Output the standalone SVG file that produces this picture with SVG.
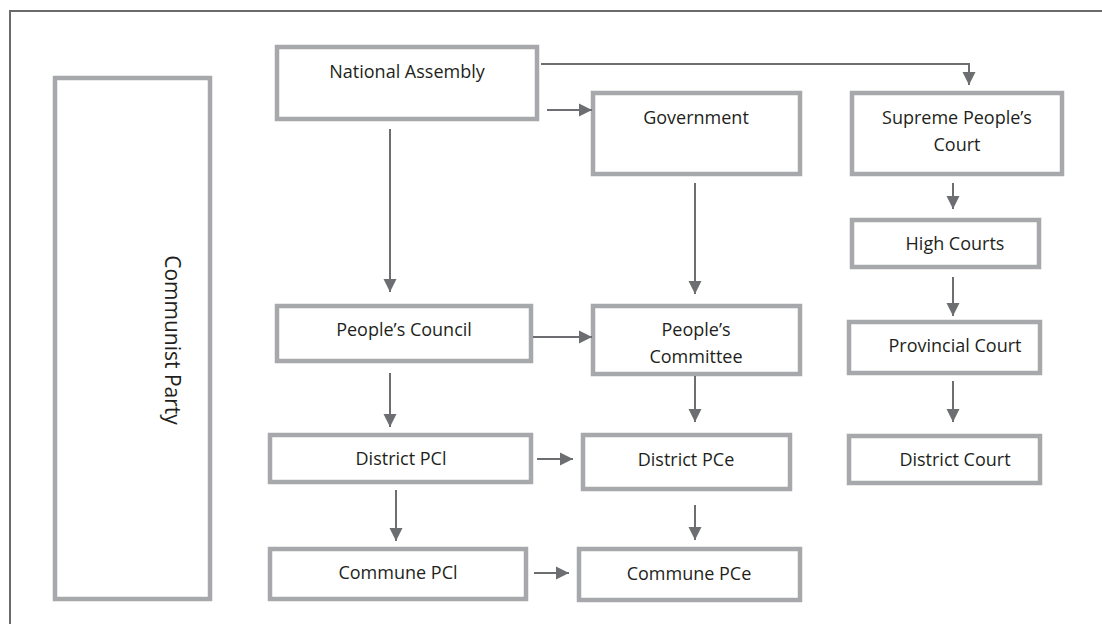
<svg xmlns="http://www.w3.org/2000/svg" width="1102" height="625" viewBox="0 0 1102 625">
<style>
.box{fill:#fff;stroke:#a7a8ab;stroke-width:4.5}
.t{font-family:"Open Sans","Noto Sans",sans-serif;font-size:18px;fill:#231f20;text-anchor:middle}
.c{fill:none;stroke:#6d6e71;stroke-width:2}
.frame{fill:none;stroke:#6b6b6b;stroke-width:2}
</style>
<defs>
<marker id="ah" markerUnits="userSpaceOnUse" markerWidth="14" markerHeight="14" viewBox="0 0 14 14" refX="13" refY="7" orient="auto">
<path d="M0,0.5 L13,7 L0,13.5 Z" fill="#6d6e71"/>
</marker>
</defs>
<rect width="1102" height="625" fill="#fff"/>
<path class="frame" d="M1102,11 H10 V624"/>
<g id="communist-party"><rect class="box" x="55" y="78" width="155" height="521"/><text class="t" transform="translate(165,340) rotate(90)" style="font-size:21px">Communist Party</text></g>
<g id="national-assembly"><rect class="box" x="277" y="47" width="260" height="72"/><text class="t" x="407" y="78">National Assembly</text></g>
<g id="government"><rect class="box" x="593" y="93" width="207" height="81"/><text class="t" x="696" y="124">Government</text></g>
<g id="supreme-court"><rect class="box" x="852" y="93" width="210" height="81"/><text class="t" x="957" y="124">Supreme People’s</text><text class="t" x="957" y="151">Court</text></g>
<g id="high-courts"><rect class="box" x="852" y="220" width="187" height="47"/><text class="t" x="955" y="250">High Courts</text></g>
<g id="provincial-court"><rect class="box" x="849" y="322" width="191" height="51"/><text class="t" x="955" y="352">Provincial Court</text></g>
<g id="district-court"><rect class="box" x="849" y="436" width="191" height="47"/><text class="t" x="955" y="466">District Court</text></g>
<g id="peoples-council"><rect class="box" x="277" y="306" width="254" height="55"/><text class="t" x="404" y="336">People’s Council</text></g>
<g id="peoples-committee"><rect class="box" x="593" y="306" width="207" height="68"/><text class="t" x="696" y="336">People’s</text><text class="t" x="696" y="363">Committee</text></g>
<g id="district-pcl"><rect class="box" x="270" y="435" width="261" height="47"/><text class="t" x="401" y="465">District PCl</text></g>
<g id="district-pce"><rect class="box" x="583" y="435" width="207" height="54"/><text class="t" x="686" y="466">District PCe</text></g>
<g id="commune-pcl"><rect class="box" x="270" y="549" width="256" height="50"/><text class="t" x="398" y="579">Commune PCl</text></g>
<g id="commune-pce"><rect class="box" x="579" y="549" width="221" height="51"/><text class="t" x="689" y="580">Commune PCe</text></g>
<g id="connectors">
<path class="c" d="M541,64 H969 V85" marker-end="url(#ah)"/>
<path class="c" d="M547,110 H592" marker-end="url(#ah)"/>
<path class="c" d="M390,129 V292" marker-end="url(#ah)"/>
<path class="c" d="M695,183 V294" marker-end="url(#ah)"/>
<path class="c" d="M953,183 V209" marker-end="url(#ah)"/>
<path class="c" d="M953,277 V316" marker-end="url(#ah)"/>
<path class="c" d="M953,381 V422" marker-end="url(#ah)"/>
<path class="c" d="M533,337 H592" marker-end="url(#ah)"/>
<path class="c" d="M390,373 V427" marker-end="url(#ah)"/>
<path class="c" d="M695,376 V422" marker-end="url(#ah)"/>
<path class="c" d="M537,459 H573" marker-end="url(#ah)"/>
<path class="c" d="M396,490 V541" marker-end="url(#ah)"/>
<path class="c" d="M695,505 V540" marker-end="url(#ah)"/>
<path class="c" d="M534,573 H569" marker-end="url(#ah)"/>
</g>
</svg>
